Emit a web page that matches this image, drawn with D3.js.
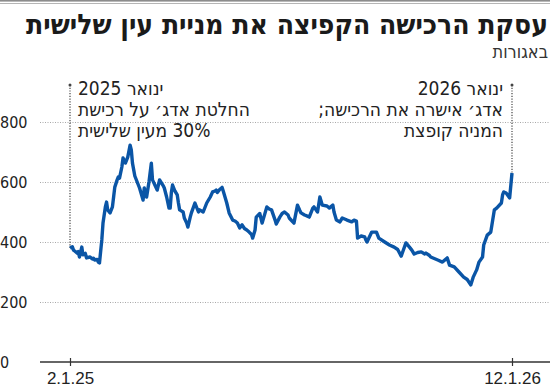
<!DOCTYPE html>
<html>
<head>
<meta charset="utf-8">
<script src="https://cdn.jsdelivr.net/npm/d3@7"></script>
<style>
  body { margin: 0; background: #fff; }
  svg { display: block; font-family: "DejaVu Sans Condensed", "DejaVu Sans", sans-serif; font-stretch: condensed; }
</style>
</head>
<body>
<div id="chart"></div>
<script>
// נתוני המניה (באגורות)
const dates = [
  "2025-01-02","2025-01-04","2025-01-05","2025-01-06","2025-01-08","2025-01-09","2025-01-10","2025-01-12",
  "2025-01-13","2025-01-15","2025-01-16","2025-01-19","2025-01-21","2025-01-22","2025-01-23","2025-01-25",
  "2025-01-26","2025-01-27","2025-01-29","2025-01-30","2025-02-01","2025-02-02","2025-02-03","2025-02-05",
  "2025-02-07","2025-02-08","2025-02-09","2025-02-11","2025-02-12","2025-02-13","2025-02-15","2025-02-16",
  "2025-02-18","2025-02-19","2025-02-20","2025-02-22","2025-02-23","2025-02-24","2025-02-26","2025-02-28",
  "2025-03-02","2025-03-05","2025-03-06","2025-03-08","2025-03-10","2025-03-12","2025-03-13","2025-03-15",
  "2025-03-17","2025-03-19","2025-03-22","2025-03-23","2025-03-25","2025-03-27","2025-03-28","2025-03-29",
  "2025-03-30","2025-04-01","2025-04-03","2025-04-04","2025-04-05","2025-04-08","2025-04-09","2025-04-11",
  "2025-04-12","2025-04-14","2025-04-15","2025-04-18","2025-04-20","2025-04-21","2025-04-22","2025-04-25",
  "2025-04-26","2025-04-28","2025-05-01","2025-05-03","2025-05-05","2025-05-06","2025-05-07","2025-05-09",
  "2025-05-11","2025-05-12","2025-05-13","2025-05-15","2025-05-17","2025-05-20","2025-05-22","2025-05-24",
  "2025-05-26","2025-05-28","2025-05-30","2025-06-01","2025-06-03","2025-06-05","2025-06-06","2025-06-08",
  "2025-06-09","2025-06-12","2025-06-14","2025-06-18","2025-06-20","2025-06-22","2025-06-25","2025-06-26",
  "2025-06-29","2025-07-01","2025-07-03","2025-07-06","2025-07-07","2025-07-10","2025-07-11","2025-07-14",
  "2025-07-16","2025-07-17","2025-07-20","2025-07-22","2025-07-24","2025-07-27","2025-07-28","2025-07-31",
  "2025-08-02","2025-08-04","2025-08-08","2025-08-10","2025-08-13","2025-08-14","2025-08-16","2025-08-19",
  "2025-08-21","2025-08-24","2025-08-25","2025-08-29","2025-08-31","2025-09-02","2025-09-03","2025-09-06",
  "2025-09-09","2025-09-10","2025-09-11","2025-09-15","2025-09-19","2025-09-21","2025-09-26","2025-09-30",
  "2025-10-04","2025-10-07","2025-10-10","2025-10-12","2025-10-14","2025-10-17","2025-10-19","2025-10-21",
  "2025-10-24","2025-10-27","2025-10-30","2025-10-31","2025-11-03","2025-11-04","2025-11-07","2025-11-10",
  "2025-11-14","2025-11-16","2025-11-18","2025-11-20","2025-11-24","2025-11-28","2025-12-02","2025-12-05",
  "2025-12-07","2025-12-08","2025-12-10","2025-12-13","2025-12-15","2025-12-18","2025-12-19","2025-12-22",
  "2025-12-25","2025-12-28","2025-12-30","2026-01-03","2026-01-04","2026-01-05","2026-01-07","2026-01-10",
  "2026-01-12"
];
const prices = [
  380,384,373,370,363,368,350,383,
  357,362,347,350,343,346,340,342,
  333,330,407,463,517,533,507,497,
  517,550,583,607,617,613,650,680,
  663,673,683,723,707,663,620,600,
  580,540,580,550,600,663,607,590,
  573,607,588,580,550,513,513,565,
  590,570,557,530,507,500,480,463,
  450,483,497,530,510,500,507,500,
  510,530,550,567,570,573,565,575,
  582,570,557,530,497,473,470,463,
  447,457,445,440,433,425,413,440,
  483,495,463,517,510,507,473,460,
  483,495,500,490,480,467,463,523,
  505,497,490,487,483,513,517,500,
  550,523,520,513,523,500,473,467,
  480,475,473,467,473,470,413,420,
  417,407,400,433,433,413,400,390,
  383,375,353,375,397,383,373,360,
  365,367,360,363,355,350,345,340,
  333,340,347,323,317,300,283,275,
  263,257,282,307,333,350,390,423,
  433,507,513,530,557,567,563,547,
  630
];
const yTicks = [0, 200, 400, 600, 800];
const xTickDates = ["2025-01-02", "2026-01-12"];
const xTickLabels = ["2.1.25", "12.1.26"];

const titleText = "עסקת הרכישה הקפיצה את מניית עין שלישית";
const subtitleText = "באגורות";
const noteLeft = ["ינואר 2025", "החלטת אדג׳ על רכישת", "30% מעין שלישית"];
const noteRight = ["ינואר 2026", "אדג׳ אישרה את הרכישה;", "המניה קופצת"];

const width = 550, height = 387;
const parse = d3.timeParse("%Y-%m-%d");
const data = dates.map((d, i) => ({ date: parse(d), value: prices[i] }));

const svg = d3.select("#chart").append("svg")
  .attr("width", width)
  .attr("height", height);

// קו עליון
svg.append("rect").attr("x", 0).attr("y", 0).attr("width", width).attr("height", 1.6).attr("fill", "#8c8c8c");
svg.append("line").attr("x1", 0).attr("x2", width).attr("y1", 3.5).attr("y2", 3.5)
  .attr("stroke", "#b5b5b5").attr("stroke-width", 1);

// כותרת
svg.append("text")
  .attr("x", 548).attr("y", 34)
  .attr("direction", "rtl").attr("text-anchor", "start")
  .style("font-size", "28px").style("font-weight", "bold").attr("fill", "#1a1a1a")
  .text(titleText);

svg.append("text")
  .attr("x", 548).attr("y", 58)
  .attr("direction", "rtl").attr("text-anchor", "start")
  .style("font-size", "18px").attr("fill", "#333")
  .text(subtitleText);

const x = d3.scaleTime()
  .domain([parse(xTickDates[0]), parse(xTickDates[1])])
  .range([70, 512]);

const y = d3.scaleLinear()
  .domain([0, 800])
  .range([362, 122]);

// קווי רשת
svg.append("g")
  .selectAll("line")
  .data(yTicks.filter(d => d > 0))
  .join("line")
  .attr("x1", 40).attr("x2", width)
  .attr("y1", d => y(d) + 0.5).attr("y2", d => y(d) + 0.5)
  .attr("stroke", "#a8a8a8").attr("stroke-width", 1).attr("stroke-dasharray", "1,1.5");

// תוויות ציר Y
svg.append("g")
  .selectAll("text")
  .data(yTicks)
  .join("text")
  .attr("x", 0).attr("y", d => y(d))
  .attr("dy", "0.36em")
  .style("font-size", "16px").attr("fill", "#222")
  .text(d => d);

// ציר X
const xAxis = d3.axisBottom(x)
  .tickValues(xTickDates.map(parse))
  .tickFormat((d, i) => xTickLabels[i])
  .tickSize(8);

const gx = svg.append("g")
  .attr("transform", `translate(0, ${y(0)})`)
  .call(xAxis);
gx.select(".domain").remove();
gx.selectAll(".tick line").attr("y1", -4).attr("y2", 4).attr("stroke", "#333").attr("stroke-width", 1.2);
gx.selectAll(".tick text")
  .attr("y", 22).attr("dy", null)
  .style("font-size", "17px").attr("font-family", null).attr("fill", "#222");
svg.append("line")
  .attr("x1", 40).attr("x2", width).attr("y1", y(0)).attr("y2", y(0))
  .attr("stroke", "#333").attr("stroke-width", 1.5);

// קווי הערה
const first = data[0], last = data[data.length - 1];
[first, last].forEach(p => {
  svg.append("line")
    .attr("x1", x(p.date)).attr("x2", x(p.date))
    .attr("y1", 85).attr("y2", y(p.value))
    .attr("stroke", "#444").attr("stroke-width", 1.2).attr("stroke-dasharray", "1.2,1.5");
  svg.append("circle").attr("cx", x(p.date)).attr("cy", 85).attr("r", 1.5).attr("fill", "#444");
});

// קו המניה
const line = d3.line()
  .x(d => x(d.date))
  .y(d => y(d.value));

svg.append("path")
  .datum(data)
  .attr("fill", "none")
  .attr("stroke", "#0a55a6")
  .attr("stroke-width", 3.4)
  .attr("stroke-linejoin", "round")
  .attr("d", line);

// טקסט הערות
function note(lines, xPos, anchor) {
  const t = svg.append("text")
    .attr("direction", "rtl")
    .attr("text-anchor", anchor)
    .style("font-size", "19px").attr("fill", "#222");
  lines.forEach((l, i) => {
    t.append("tspan").attr("x", xPos).attr("y", 95 + i * 21).text(l);
  });
}
note(noteLeft, 78, "end");
note(noteRight, 503, "start");
</script>
</body>
</html>
